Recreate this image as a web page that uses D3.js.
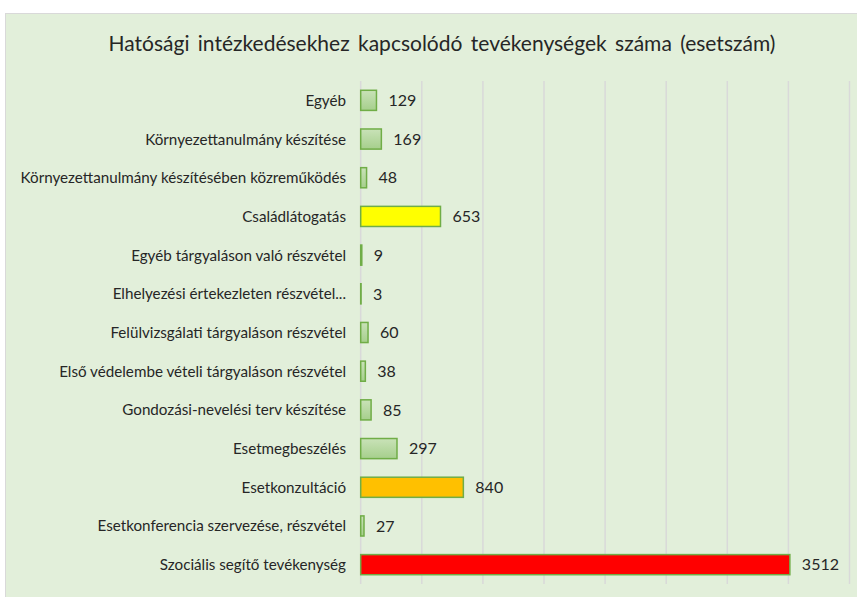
<!DOCTYPE html>
<html>
<head>
<meta charset="utf-8">
<script src="https://cdn.jsdelivr.net/npm/d3@7"></script>
<style>
  body { margin: 0; background: #fff; }
  svg text { font-family: Lato, "Open Sans", sans-serif; fill: #262626; }
</style>
</head>
<body>
<svg id="chart" width="857" height="597"></svg>
<script>
var categories = [
  "Egyéb",
  "Környezettanulmány készítése",
  "Környezettanulmány készítésében közreműködés",
  "Családlátogatás",
  "Egyéb tárgyaláson való részvétel",
  "Elhelyezési értekezleten részvétel...",
  "Felülvizsgálati tárgyaláson részvétel",
  "Első védelembe vételi tárgyaláson részvétel",
  "Gondozási-nevelési terv készítése",
  "Esetmegbeszélés",
  "Esetkonzultáció",
  "Esetkonferencia szervezése, részvétel",
  "Szociális segítő tevékenység"
];
var values = [129, 169, 48, 653, 9, 3, 60, 38, 85, 297, 840, 27, 3512];
var barFills = ["grad", "grad", "grad", "#ffff00", "grad", "grad", "grad", "grad", "grad", "grad", "#ffc000", "grad", "#ff0000"];
var gridTicks = [0, 500, 1000, 1500, 2000, 2500, 3000, 3500, 4000];
var title = "Hatósági intézkedésekhez kapcsolódó tevékenységek száma (esetszám)";

var svg = d3.select("#chart");

// chart area
svg.append("rect")
    .attr("x", 5.5).attr("y", 13.5)
    .attr("width", 860).attr("height", 600)
    .attr("fill", "#e2efda")
    .attr("stroke", "#d9d9d9");

var defs = svg.append("defs");
var grad = defs.append("linearGradient")
    .attr("id", "greenGrad")
    .attr("x1", 0).attr("y1", 0).attr("x2", 0).attr("y2", 1);
grad.append("stop").attr("offset", "0%").attr("stop-color", "#c9e2b8");
grad.append("stop").attr("offset", "100%").attr("stop-color", "#a6cf8c");

var x = d3.scaleLinear().domain([0, 4000]).range([360.7, 849.5]);
var y = d3.scaleBand().domain(categories).range([81, 584]).paddingInner(0.48).paddingOuter(0.24);

svg.append("text")
    .attr("x", 442).attr("y", 51)
    .attr("text-anchor", "middle")
    .style("font-size", "21px")
    .style("word-spacing", "3px")
    .text(title);

svg.append("g").selectAll("line")
    .data(gridTicks)
    .join("line")
    .attr("x1", d => x(d)).attr("x2", d => x(d))
    .attr("y1", 81).attr("y2", 584)
    .attr("stroke", "#d9d9d9")
    .attr("stroke-width", 1.5);

svg.append("g").selectAll("rect")
    .data(values)
    .join("rect")
    .attr("x", x(0))
    .attr("y", (d, i) => y(categories[i]))
    .attr("width", d => x(d) - x(0))
    .attr("height", y.bandwidth())
    .attr("fill", (d, i) => barFills[i] == "grad" ? "url(#greenGrad)" : barFills[i])
    .attr("stroke", "#70ad47")
    .attr("stroke-width", 1.5);

svg.append("g").selectAll("text")
    .data(values)
    .join("text")
    .attr("x", d => x(d) + 12)
    .attr("y", (d, i) => y(categories[i]) + y.bandwidth() / 2)
    .attr("dy", "0.36em")
    .style("font-size", "16px")
    .text(d => d);

svg.append("g").selectAll("text")
    .data(categories)
    .join("text")
    .attr("x", 346)
    .attr("y", d => y(d) + y.bandwidth() / 2)
    .attr("dy", "0.36em")
    .attr("text-anchor", "end")
    .style("font-size", "15.2px")
    .text(d => d);
</script>
</body>
</html>
